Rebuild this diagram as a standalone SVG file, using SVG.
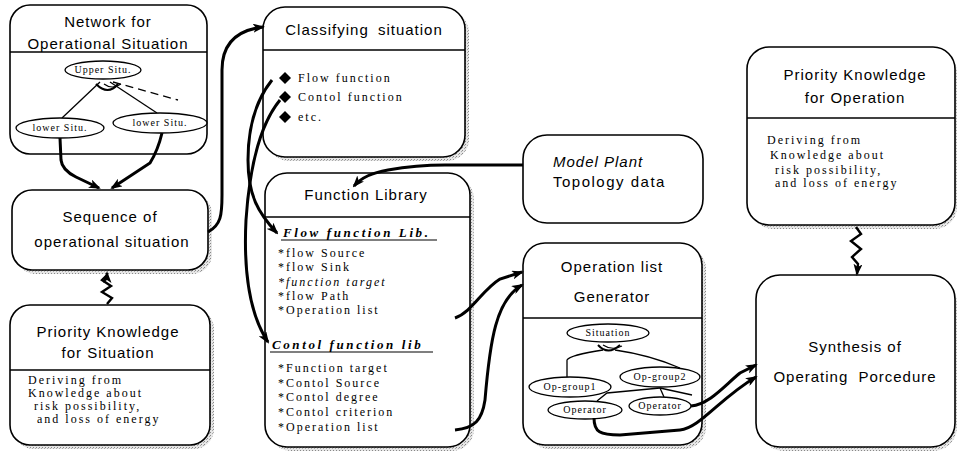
<svg xmlns="http://www.w3.org/2000/svg" width="959" height="451" viewBox="0 0 959 451">
<style>
.box{fill:#fff;stroke:#000;stroke-width:1.6}
.shd{fill:url(#stip)}
.hl{stroke:#000;stroke-width:1.4}
.ttl{font-family:"Liberation Sans",Arial,sans-serif;font-size:15px;letter-spacing:1px;text-anchor:middle;fill:#000}
.bod{font-family:"Liberation Serif","Times New Roman",serif;font-size:12px;letter-spacing:2px;fill:#000}
.lib{font-family:"Liberation Serif","Times New Roman",serif;font-size:12px;letter-spacing:2px;fill:#000}
.libh{font-family:"Liberation Serif","Times New Roman",serif;font-size:13px;font-weight:bold;font-style:italic;letter-spacing:2.6px;fill:#000}
.ell{fill:#fff;stroke:#000;stroke-width:1.3}
.et{font-family:"Liberation Serif","Times New Roman",serif;font-size:10px;letter-spacing:1px;text-anchor:middle;fill:#000}
.thin{fill:none;stroke:#000;stroke-width:1.3}
.thick{fill:none;stroke:#000;stroke-width:3;marker-end:url(#ah)}
.zig{fill:none;stroke:#000;stroke-width:2.4;marker-end:url(#ah)}
</style>
<defs>
<pattern id="stip" width="3" height="3" patternUnits="userSpaceOnUse">
<rect width="3" height="3" fill="#e6e6e6"/>
<rect width="1" height="1" fill="#888"/>
<rect x="2" y="1" width="1" height="1" fill="#aaa"/>
</pattern>
<marker id="ah" markerWidth="12" markerHeight="9" refX="10" refY="4.5" orient="auto" markerUnits="userSpaceOnUse">
<path d="M0,0 L12,4.5 L0,9 L3,4.5 Z" fill="#000"/>
</marker>
</defs>
<rect width="959" height="451" fill="#fff"/>

<g id="network">
<rect class="box" x="10" y="5" width="197" height="149" rx="20"/>
<line class="hl" x1="10" y1="52" x2="207" y2="52"/>
<text class="ttl" x="108" y="27">Network for</text>
<text class="ttl" x="108" y="49">Operational Situation</text>
<path class="thin" d="M100,82 L62,118"/>
<path class="thin" d="M110,82 L157,113"/>
<path class="thin" d="M113,82 L178,100" stroke-dasharray="8,5"/>
<path d="M96,84 Q108,96 118,84" fill="none" stroke="#000" stroke-width="2"/>
<path d="M104,84 Q112,90 121,84" fill="none" stroke="#000" stroke-width="1.2"/>
<ellipse class="ell" cx="103" cy="70" rx="38" ry="9"/>
<text class="et" x="103" y="73">Upper Situ.</text>
<ellipse class="ell" cx="60" cy="128" rx="44" ry="10"/>
<text class="et" x="60" y="131">lower Situ.</text>
<ellipse class="ell" cx="160" cy="123" rx="47" ry="10"/>
<text class="et" x="160" y="126">lower Situ.</text>
</g>

<g id="sequence">
<rect class="shd" x="16" y="194" width="196" height="80" rx="20"/>
<rect class="box" x="12" y="190" width="196" height="80" rx="20"/>
<text class="ttl" x="110" y="222">Sequence of</text>
<text class="ttl" x="112" y="247">operational situation</text>
</g>

<g id="pk-situation">
<rect class="shd" x="14" y="309" width="200" height="140" rx="20"/>
<rect class="box" x="10" y="305" width="200" height="140" rx="20"/>
<line class="hl" x1="10" y1="370" x2="210" y2="370"/>
<text class="ttl" x="108" y="337">Priority Knowledge</text>
<text class="ttl" x="108" y="358">for Situation</text>
<text class="bod" x="28" y="384">Deriving from</text>
<text class="bod" x="28" y="397">Knowledge about</text>
<text class="bod" x="34" y="410">risk possibility,</text>
<text class="bod" x="37" y="423">and loss of energy</text>
</g>

<g id="classifying">
<rect class="shd" x="267" y="11" width="202" height="150" rx="22"/>
<rect class="box" x="263" y="7" width="202" height="150" rx="22"/>
<line class="hl" x1="263" y1="50" x2="465" y2="50"/>
<text class="ttl" x="364" y="35" word-spacing="4">Classifying situation</text>
<path d="M285,72 L291,78 L285,84 L279,78 Z" fill="#000"/>
<path d="M285,91 L291,97 L285,103 L279,97 Z" fill="#000"/>
<path d="M285,111 L291,117 L285,123 L279,117 Z" fill="#000"/>
<text class="bod" x="298" y="82">Flow function</text>
<text class="bod" x="298" y="101">Contol function</text>
<text class="bod" x="298" y="121">etc.</text>
</g>

<g id="function-library">
<rect class="shd" x="269" y="177" width="205" height="274" rx="22"/>
<rect class="box" x="265" y="173" width="205" height="274" rx="22"/>
<line class="hl" x1="265" y1="217" x2="470" y2="217"/>
<text class="ttl" x="366" y="200">Function Library</text>
<text class="libh" x="283" y="237">Flow function Lib.</text>
<line x1="281" y1="240" x2="437" y2="240" stroke="#000" stroke-width="1.2"/>
<text class="lib" x="278" y="257">*flow Source</text>
<text class="lib" x="278" y="271">*flow Sink</text>
<text class="lib" x="278" y="286" font-style="italic">*function target</text>
<text class="lib" x="278" y="300">*flow Path</text>
<text class="lib" x="278" y="314">*Operation list</text>
<text class="libh" x="272" y="349">Contol function lib</text>
<line x1="270" y1="352" x2="433" y2="352" stroke="#000" stroke-width="1.2"/>
<text class="lib" x="278" y="372">*Function target</text>
<text class="lib" x="278" y="387">*Contol Source</text>
<text class="lib" x="278" y="401">*Contol degree</text>
<text class="lib" x="278" y="416">*Contol criterion</text>
<text class="lib" x="278" y="431">*Operation list</text>
</g>

<g id="model-plant">
<rect class="box" x="523" y="135" width="180" height="88" rx="24"/>
<text class="ttl" x="553" y="167" font-style="italic" style="text-anchor:start">Model Plant</text>
<text class="ttl" x="553" y="187" style="text-anchor:start;letter-spacing:1.5px">Topology data</text>
</g>

<g id="generator">
<rect class="shd" x="527" y="247" width="179" height="202" rx="22"/>
<rect class="box" x="523" y="243" width="179" height="202" rx="22"/>
<line class="hl" x1="523" y1="318" x2="702" y2="318"/>
<text class="ttl" x="612" y="272">Operation list</text>
<text class="ttl" x="612" y="302">Generator</text>
<path class="thin" d="M603,350 Q570,355 567,360 L567,378"/>
<path class="thin" d="M615,350 Q650,355 680,368"/>
<path d="M598,345 Q608,356 620,345" fill="none" stroke="#000" stroke-width="2"/>
<path d="M603,345 Q612,351 622,346" fill="none" stroke="#000" stroke-width="1.1"/>
<path class="thin" d="M660,388 L607,393 L597,401"/>
<path class="thin" d="M660,388 L664,397"/>
<path class="thin" d="M660,388 L692,395"/>
<ellipse class="ell" cx="608" cy="333" rx="41" ry="9"/>
<text class="et" x="608" y="336">Situation</text>
<ellipse class="ell" cx="660" cy="377" rx="40" ry="10"/>
<text class="et" x="660" y="380">Op-group2</text>
<ellipse class="ell" cx="570" cy="387" rx="41" ry="10"/>
<text class="et" x="570" y="390">Op-group1</text>
<ellipse class="ell" cx="585" cy="410" rx="37" ry="9"/>
<text class="et" x="585" y="413">Operator</text>
<ellipse class="ell" cx="660" cy="406" rx="31" ry="9"/>
<text class="et" x="660" y="409">Operator</text>
</g>

<g id="pk-operation">
<rect class="shd" x="751" y="51" width="206" height="178" rx="22"/>
<rect class="box" x="747" y="47" width="208" height="178" rx="22"/>
<line class="hl" x1="747" y1="118" x2="955" y2="118"/>
<text class="ttl" x="855" y="80">Priority Knowledge</text>
<text class="ttl" x="855" y="103">for Operation</text>
<text class="bod" x="767" y="144">Deriving from</text>
<text class="bod" x="770" y="159">Knowledge about</text>
<text class="bod" x="775" y="174">risk possibility,</text>
<text class="bod" x="775" y="187">and loss of energy</text>
</g>

<g id="synthesis">
<rect class="shd" x="760" y="279" width="197" height="172" rx="24"/>
<rect class="box" x="756" y="275" width="199" height="172" rx="24"/>
<text class="ttl" x="855" y="352">Synthesis of</text>
<text class="ttl" x="855" y="382" word-spacing="5">Operating Porcedure</text>
</g>

<g id="connectors">
<path class="thick" d="M60,138 L61,160 Q62,170 76,177 L99,188"/>
<path class="thick" d="M162,133 Q158,150 150,163 L112,188"/>
<path class="zig" d="M107,304 L112,298 L102,292 L111,286 L102,280 L107,275 L107,273"/>
<path class="thick" d="M208,232 C221,225 222,215 222,195 L222,70 C222,42 238,30 263,27"/>
<path class="thick" d="M272,80 C256,100 248,125 248,160 C248,195 258,213 277,233"/>
<path class="thick" d="M280,100 C262,122 250,160 246,220 C243,280 252,318 268,342"/>
<path class="thick" d="M523,165 L445,165 C420,165 405,167 388,170 C372,173 362,177 354,186"/>
<path class="thick" d="M455,318 C472,312 482,290 500,279 L522,272"/>
<path class="thick" d="M455,430 C475,428 482,420 485,400 C490,340 496,300 522,285"/>
<path class="thick" d="M691,406 C710,404 725,385 740,373 L756,365"/>
<path class="thick" d="M594,418 C594,432 600,435 620,435 L680,430 C700,428 720,398 756,377"/>
<path class="zig" d="M856,227 L861,234 L851,241 L861,249 L852,257 L858,264 L857,274"/>
</g>
</svg>
